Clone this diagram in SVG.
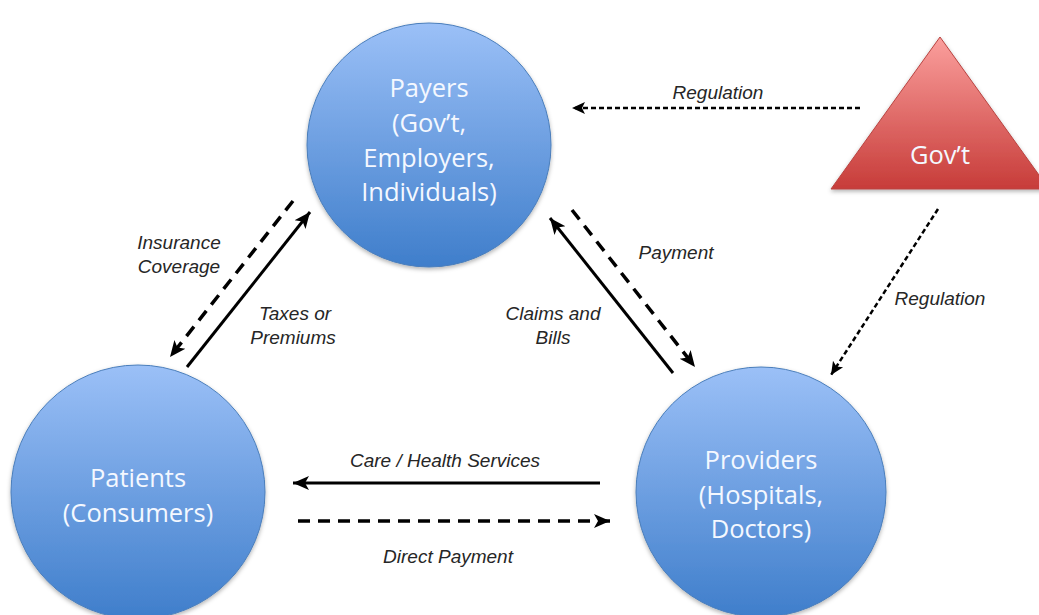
<svg xmlns="http://www.w3.org/2000/svg" width="1039" height="615" viewBox="0 0 1039 615">
  <style>
    .node-text { font-family: "Open Sans", "Noto Sans", sans-serif; font-size: 25.5px; fill: #f4f8ff; text-anchor: middle; }
    .label { font-family: "Liberation Sans", Arial, sans-serif; font-size: 19px; font-style: italic; fill: #262626; text-anchor: middle; }
    .solid { stroke: #000; stroke-width: 3; fill: none; }
    .dash { stroke: #000; stroke-width: 3.5; fill: none; stroke-dasharray: 12 8; }
    .reg { stroke: #000; stroke-width: 2.5; fill: none; stroke-dasharray: 5 3; }
    .circle { stroke: #4a7ebb; stroke-width: 1; filter: url(#shadow); }
  </style>
  <defs>
    <linearGradient id="blueFill" x1="0" y1="0" x2="0" y2="1">
      <stop offset="0" stop-color="#9bc0f7"/>
      <stop offset="1" stop-color="#3f7ecb"/>
    </linearGradient>
    <linearGradient id="redFill" x1="0" y1="0" x2="0" y2="1">
      <stop offset="0" stop-color="#fb9f9d"/>
      <stop offset="1" stop-color="#c73c39"/>
    </linearGradient>
    <filter id="shadow" x="-10%" y="-10%" width="120%" height="125%">
      <feDropShadow dx="0" dy="2" stdDeviation="2" flood-color="#000" flood-opacity="0.3"/>
    </filter>
    <marker id="head" markerUnits="userSpaceOnUse" markerWidth="20" markerHeight="16" refX="16" refY="8" orient="auto">
      <path d="M0,1 L16,8 L0,15 L4,8 Z" fill="#000"/>
    </marker>
    <marker id="headSmall" markerUnits="userSpaceOnUse" markerWidth="16" markerHeight="14" refX="13" refY="7" orient="auto">
      <path d="M0,1 L13,7 L0,13 L3,7 Z" fill="#000"/>
    </marker>
  </defs>

  <!-- Payers -->
  <g id="payers">
    <circle class="circle" cx="429" cy="145" r="122" fill="url(#blueFill)"/>
    <text class="node-text" x="429" y="97">Payers</text>
    <text class="node-text" x="429" y="132">(Gov’t,</text>
    <text class="node-text" x="429" y="167">Employers,</text>
    <text class="node-text" x="429" y="201">Individuals)</text>
  </g>

  <!-- Patients -->
  <g id="patients">
    <circle class="circle" cx="138" cy="492" r="127" fill="url(#blueFill)"/>
    <text class="node-text" x="138" y="487">Patients</text>
    <text class="node-text" x="138" y="522">(Consumers)</text>
  </g>

  <!-- Providers -->
  <g id="providers">
    <circle class="circle" cx="761" cy="492" r="125" fill="url(#blueFill)"/>
    <text class="node-text" x="761" y="469">Providers</text>
    <text class="node-text" x="761" y="504">(Hospitals,</text>
    <text class="node-text" x="761" y="538">Doctors)</text>
  </g>

  <!-- Government -->
  <g id="govt">
    <polygon points="940,37 831,189 1049,189" fill="url(#redFill)" stroke="#b94340" stroke-width="1" filter="url(#shadow)"/>
    <text class="node-text" x="940" y="164">Gov’t</text>
  </g>

  <!-- Connectors -->
  <g id="connectors">
    <line class="reg" x1="860" y1="108" x2="572" y2="108" marker-end="url(#headSmall)"/>
    <line class="reg" x1="938" y1="209" x2="831" y2="375" marker-end="url(#headSmall)"/>
    <line class="dash" x1="293" y1="201" x2="170" y2="357" marker-end="url(#head)"/>
    <line class="solid" x1="187" y1="367" x2="310" y2="212" marker-end="url(#head)"/>
    <line class="solid" x1="673" y1="373" x2="550" y2="218" marker-end="url(#head)"/>
    <line class="dash" x1="572" y1="210" x2="695" y2="367" marker-end="url(#head)"/>
    <line class="solid" x1="600" y1="483" x2="293" y2="483" marker-end="url(#head)"/>
    <line class="dash" x1="298" y1="521" x2="610" y2="521" marker-end="url(#head)"/>
  </g>

  <!-- Connector labels -->
  <g id="labels">
    <text class="label" x="718" y="99">Regulation</text>
    <text class="label" x="940" y="305">Regulation</text>
    <text class="label" x="179" y="249">Insurance</text>
    <text class="label" x="179" y="273">Coverage</text>
    <text class="label" x="295" y="320">Taxes or</text>
    <text class="label" x="293" y="344">Premiums</text>
    <text class="label" x="676" y="259">Payment</text>
    <text class="label" x="553" y="320">Claims and</text>
    <text class="label" x="553" y="344">Bills</text>
    <text class="label" x="445" y="467">Care / Health Services</text>
    <text class="label" x="448" y="563">Direct Payment</text>
  </g>
</svg>
